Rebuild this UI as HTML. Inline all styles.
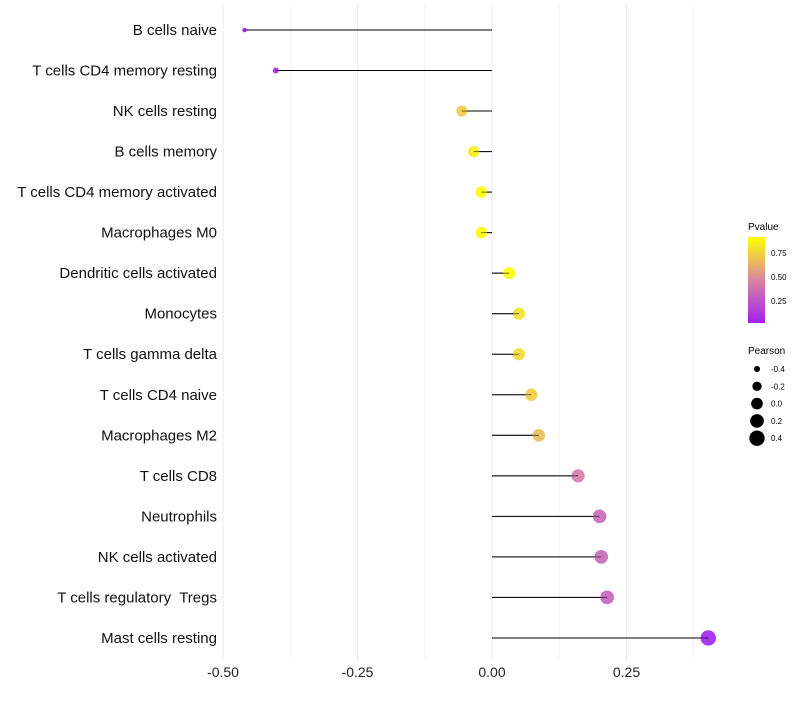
<!DOCTYPE html>
<html><head><meta charset="utf-8"><style>
body{margin:0;background:#fff;}
svg text{font-family:"Liberation Sans",sans-serif;white-space:pre;}
</style></head><body>
<svg id="chart" width="800" height="700">
<g id="grid"></g><g id="marks"></g><g id="labels"></g>
<g>
<defs><linearGradient id="pg" x1="0" y1="1" x2="0" y2="0">
<stop offset="0" stop-color="#a020f0"/><stop offset="0.5" stop-color="#d886a0"/><stop offset="1" stop-color="#ffff00"/></linearGradient></defs>
<text x="748" y="230" font-size="10">Pvalue</text>
<rect x="748" y="237" width="17" height="86" fill="url(#pg)"/>
<text x="771" y="256" font-size="8">0.75</text>
<text x="771" y="280" font-size="8">0.50</text>
<text x="771" y="304" font-size="8">0.25</text>
</g>
<g id="sizeLegend">
<text x="748" y="354" font-size="10">Pearson</text>
</g>
</svg>
<script>
const categories=["B cells naive","T cells CD4 memory resting","NK cells resting","B cells memory","T cells CD4 memory activated","Macrophages M0","Dendritic cells activated","Monocytes","T cells gamma delta","T cells CD4 naive","Macrophages M2","T cells CD8","Neutrophils","NK cells activated","T cells regulatory  Tregs","Mast cells resting"];
const pearson=[-0.46,-0.402,-0.056,-0.034,-0.02,-0.02,0.032,0.05,0.05,0.073,0.087,0.16,0.2,0.203,0.214,0.402];
const pvalues=[0.02,0.03,0.72,0.85,0.9,0.9,0.9,0.8,0.78,0.72,0.66,0.42,0.33,0.33,0.3,0.02];
const xTicks=[-0.5,-0.25,0,0.25];
const xTickLabels=["-0.50","-0.25","0.00","0.25"];
const sizeLegendVals=[-0.4,-0.2,0.0,0.2,0.4];
const sizeLegendLabels=["-0.4","-0.2","0.0","0.2","0.4"];
const NS="http://www.w3.org/2000/svg";
const x=v=>492+v*538;
const y=i=>30+i*40.53;
const r=v=>Math.sqrt(Math.max(3,34+62.5*v));
function col(p){const t=Math.max(0,Math.min(1,(p-0.01)/0.9));
 const s=[[160,32,240],[216,134,160],[255,255,0]];let a,b,u;
 if(t<0.5){a=s[0];b=s[1];u=t/0.5}else{a=s[1];b=s[2];u=(t-0.5)/0.5}
 return `rgb(${a.map((c,k)=>Math.round(c+(b[k]-c)*u)).join(",")})`;}
function mk(tag,at,parent){const e=document.createElementNS(NS,tag);for(const k in at)e.setAttribute(k,at[k]);parent.appendChild(e);return e;}
const grid=document.getElementById('grid'),marks=document.getElementById('marks'),labels=document.getElementById('labels');
for(let v=-0.5;v<=0.4;v+=0.125){const g=mk('line',{x1:x(v),x2:x(v),y1:5,y2:660,stroke:Math.abs((v*4)%1)<1e-6?'#ebebeb':'#f4f4f4','stroke-width':1},grid);

}
xTicks.forEach((v,i)=>{const t=mk('text',{x:x(v),y:677,'font-size':14,'text-anchor':'middle',fill:'#222'},labels);t.textContent=xTickLabels[i];

});
categories.forEach((c,i)=>{
 const t=mk('text',{x:217,y:y(i)+5,'font-size':15,'text-anchor':'end',fill:'#111'},labels);t.textContent=c;
 
 
 const l=mk('line',{x1:x(0),x2:x(pearson[i]),y1:y(i),y2:y(i),stroke:'#000','stroke-width':1},marks);
 
 
 const d=mk('circle',{cx:x(pearson[i]),cy:y(i),r:r(pearson[i]),fill:col(pvalues[i]),'fill-opacity':0.9},marks);
 
 
 mk('line',{x1:x(0),x2:x(pearson[i]),y1:y(i),y2:y(i),stroke:'#000','stroke-width':0.8,'stroke-opacity':0.6},marks);
});
const sl=document.getElementById('sizeLegend');
sizeLegendVals.forEach((v,i)=>{const cy=369+i*17.3;
 const c=mk('circle',{cx:757,cy:cy,r:r(v),fill:'#000'},sl);
 
 
 const t=mk('text',{x:771,y:cy+3,'font-size':8},sl);t.textContent=sizeLegendLabels[i];
 
 });
</script>
</body></html>
